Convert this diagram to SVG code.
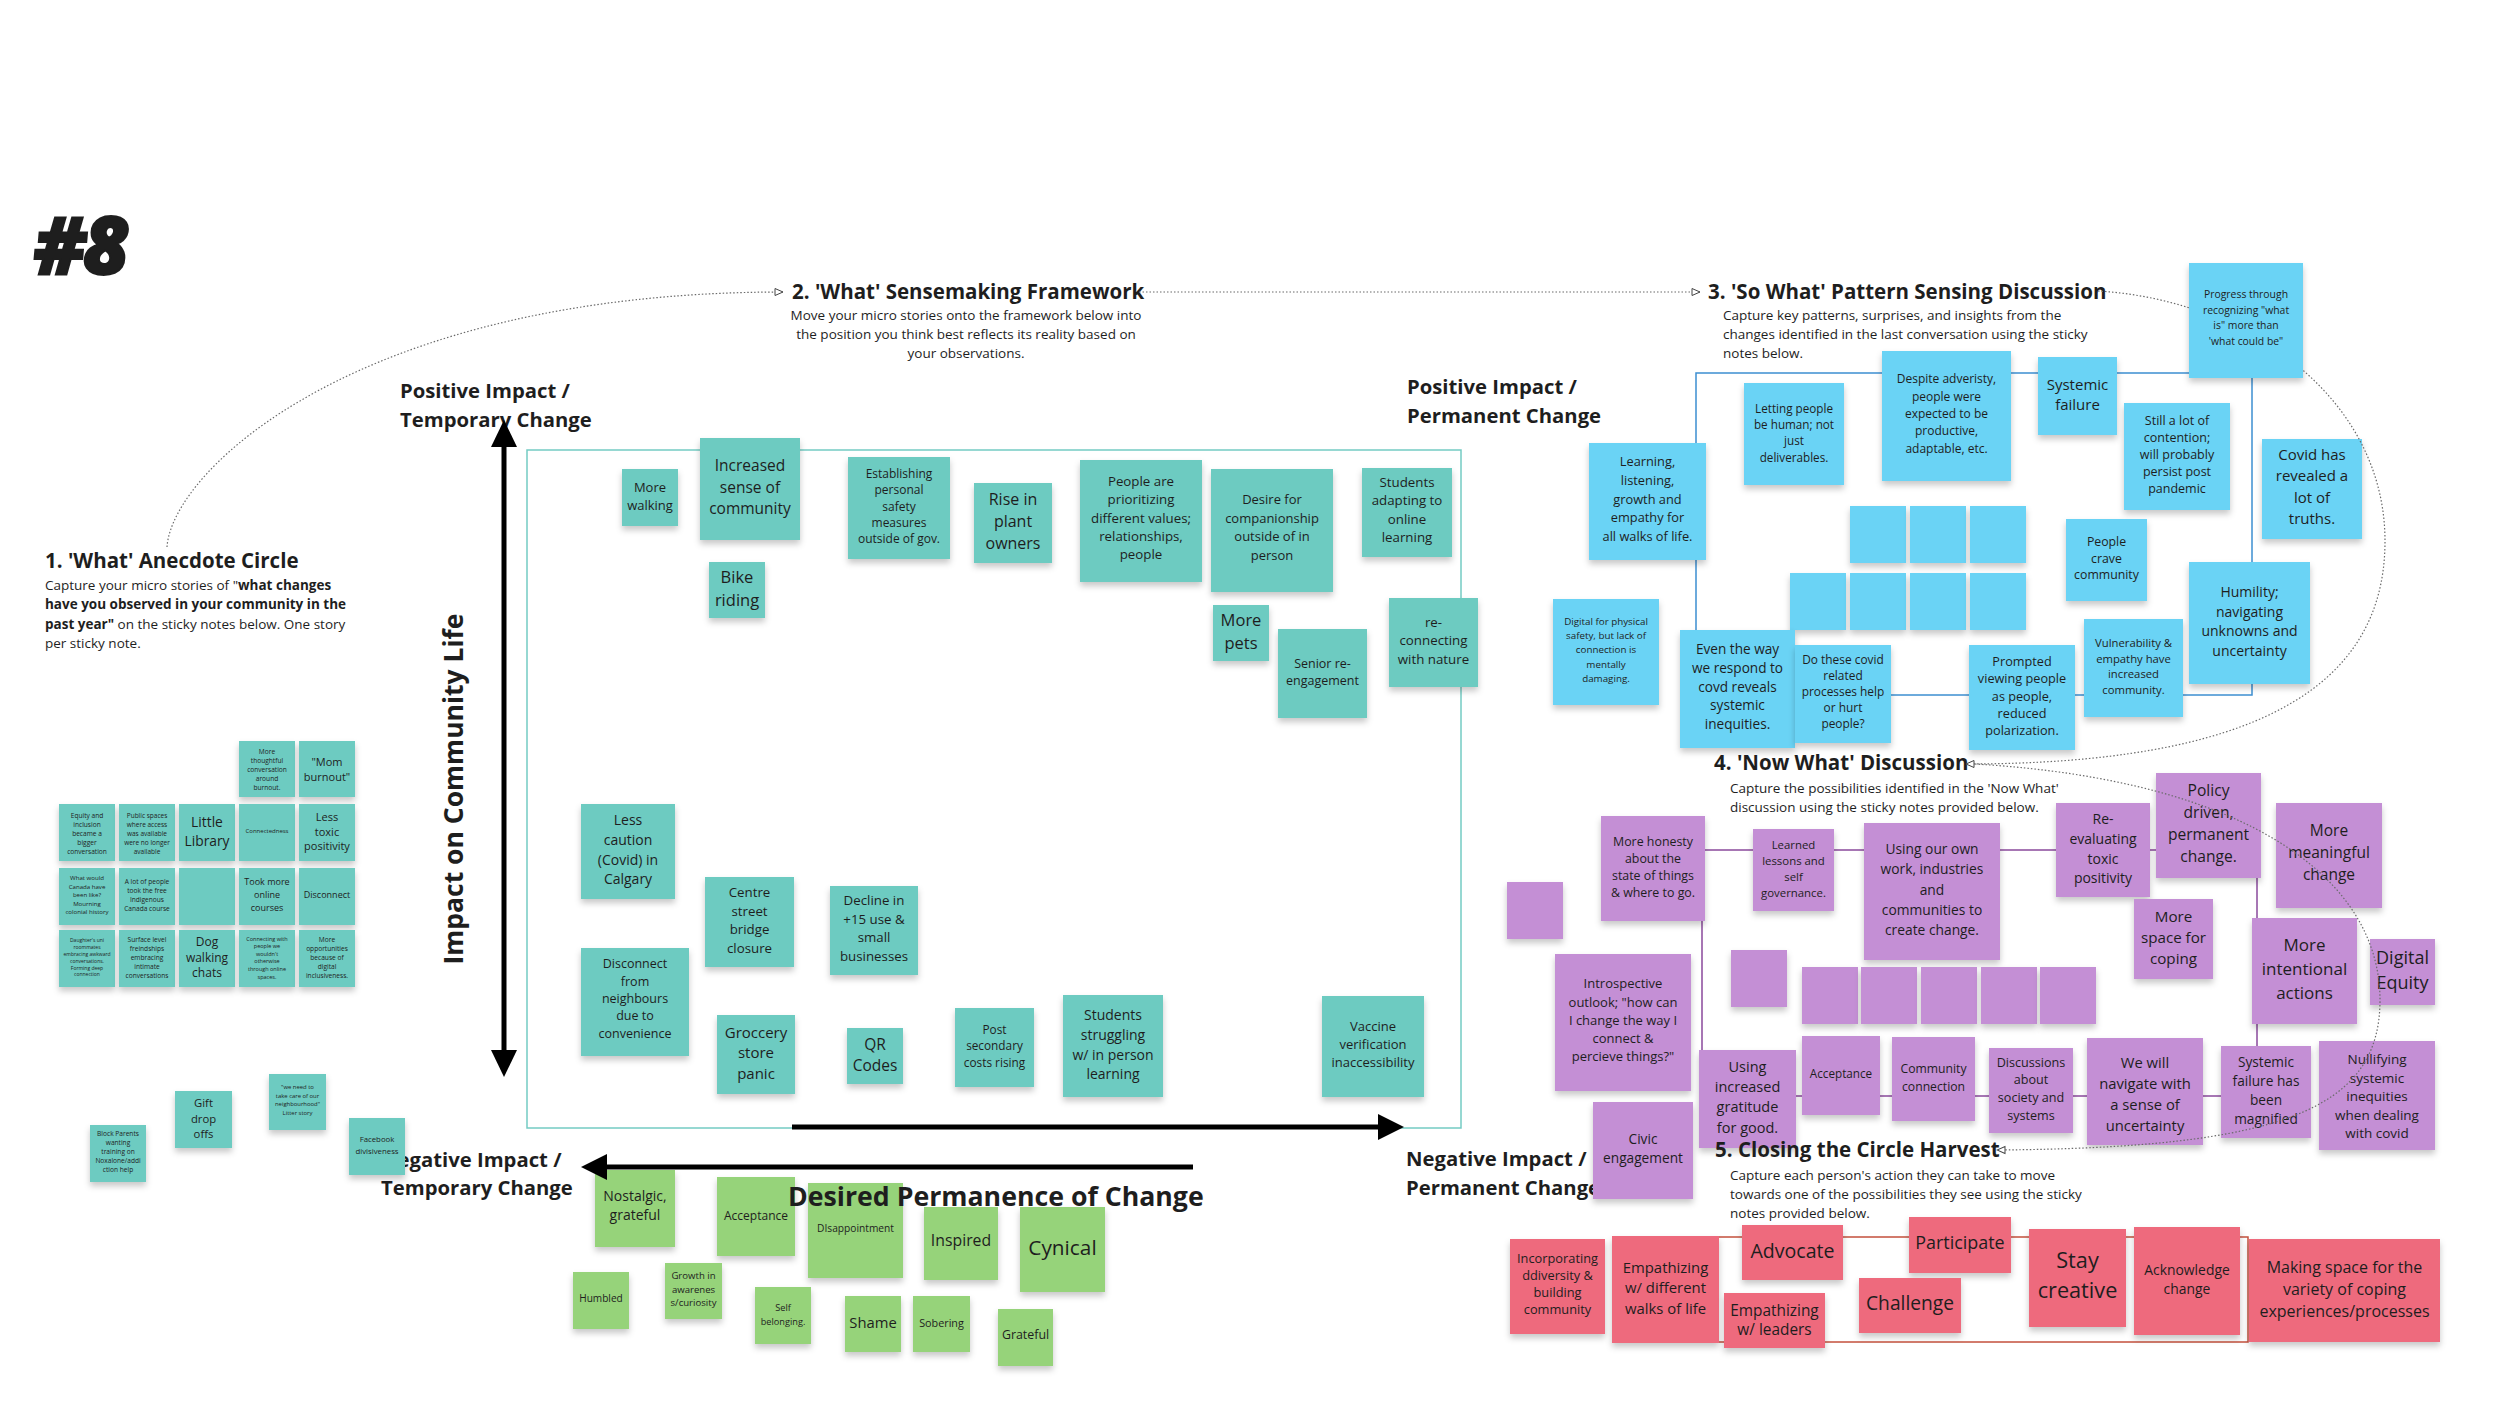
<svg xmlns="http://www.w3.org/2000/svg" width="2500" height="1406" viewBox="0 0 2500 1406">
<style>
.t{font-family:"Open Sans","Liberation Sans",sans-serif;fill:#1e1e1e}
.nt{font-family:"Open Sans","Liberation Sans",sans-serif;fill:#1e1e1e;text-anchor:middle;dominant-baseline:central}
.b{font-weight:700}
.teal{fill:#6dcbc1}
.blue{fill:#6bd3f5}
.purp{fill:#c48fd5}
.green{fill:#96d37a}
.red{fill:#ee6b7d}
.sh{filter:url(#sh)}
.dot{fill:none;stroke:#6a6a6a;stroke-width:1.2;stroke-dasharray:1.5 2}
.frame{fill:none;stroke-width:1.5}
</style>
<defs>
<filter id="sh" x="-15%" y="-15%" width="130%" height="145%">
<feDropShadow dx="0" dy="4" stdDeviation="3" flood-color="#000" flood-opacity="0.22"/>
</filter>
<marker id="tri" viewBox="0 0 10 10" refX="9" refY="5" markerWidth="10" markerHeight="10" orient="auto" markerUnits="userSpaceOnUse">
<path d="M1,1.5 L9,5 L1,8.5 Z" fill="#fff" stroke="#444" stroke-width="1"/>
</marker>
</defs>
<rect width="2500" height="1406" fill="#fff"/>

<g id="title">
<text class="t" x="34" y="274" font-family="DejaVu Sans" font-size="80" font-weight="900" font-style="italic" letter-spacing="-3" stroke="#1e1e1e" stroke-width="2">#8</text>
</g>

<g id="frames">
<rect class="frame" x="527" y="450" width="934" height="678" stroke="#74cbc3" stroke-width="2"/>
<rect class="frame" x="1696" y="373" width="556" height="322" stroke="#3d8fd1"/>
<rect class="frame" x="1702" y="850" width="555" height="246" stroke="#8a4a9c"/>
<rect class="frame" x="1702" y="1237" width="546" height="105" stroke="#c4503c"/>
</g>

<g id="axis-labels">
<text class="t b" font-size="20.3"><tspan x="400" y="398">Positive Impact /</tspan><tspan x="400" y="427">Temporary Change</tspan></text>
<text class="t b" font-size="20.3"><tspan x="1407" y="394">Positive Impact /</tspan><tspan x="1407" y="423">Permanent Change</tspan></text>
<text class="t b" font-size="20.3"><tspan x="381" y="1167">Negative Impact /</tspan><tspan x="381" y="1195">Temporary Change</tspan></text>
<text class="t b" font-size="20.3"><tspan x="1406" y="1166">Negative Impact /</tspan><tspan x="1406" y="1195">Permanent Change</tspan></text>
</g>

<g id="anecdote-notes">
<g id="a-thoughtful"><rect class="teal sh" x="239" y="741" width="56" height="56"/><text class="nt" font-size="6.6"><tspan x="267" y="750.8">More</tspan><tspan x="267" y="759.9">thoughtful</tspan><tspan x="267" y="769">conversation</tspan><tspan x="267" y="778.1">around</tspan><tspan x="267" y="787.2">burnout.</tspan></text></g>
<g id="a-mom"><rect class="teal sh" x="299" y="741" width="56" height="56"/><text class="nt" font-size="11"><tspan x="327" y="761">"Mom</tspan><tspan x="327" y="775.5">burnout"</tspan></text></g>
<g id="a-equity"><rect class="teal sh" x="59" y="804" width="56" height="57"/><text class="nt" font-size="6.6"><tspan x="87" y="814.5">Equity and</tspan><tspan x="87" y="823.5">inclusion</tspan><tspan x="87" y="832.5">became a</tspan><tspan x="87" y="841.5">bigger</tspan><tspan x="87" y="850.5">conversation</tspan></text></g>
<g id="a-public"><rect class="teal sh" x="119" y="804" width="56" height="57"/><text class="nt" font-size="6.5"><tspan x="147" y="814.5">Public spaces</tspan><tspan x="147" y="823.5">where access</tspan><tspan x="147" y="832.5">was available</tspan><tspan x="147" y="841.5">were no longer</tspan><tspan x="147" y="850.5">available</tspan></text></g>
<g id="a-library"><rect class="teal sh" x="179" y="804" width="56" height="57"/><text class="nt" font-size="13.8"><tspan x="207" y="821.3">Little</tspan><tspan x="207" y="839.7">Library</tspan></text></g>
<g id="a-connectedness"><rect class="teal sh" x="239" y="804" width="56" height="57"/><text class="nt" font-size="6"><tspan x="267" y="831">Connectedness</tspan></text></g>
<g id="a-lesstoxic"><rect class="teal sh" x="299" y="804" width="56" height="57"/><text class="nt" font-size="11"><tspan x="327" y="816">Less</tspan><tspan x="327" y="830.7">toxic</tspan><tspan x="327" y="845.4">positivity</tspan></text></g>
<g id="a-canada"><rect class="teal sh" x="59" y="868" width="56" height="57"/><text class="nt" font-size="6.1"><tspan x="87" y="877.2">What would</tspan><tspan x="87" y="885.7">Canada have</tspan><tspan x="87" y="894.2">been like?</tspan><tspan x="87" y="902.7">Mourning</tspan><tspan x="87" y="911.2">colonial history</tspan></text></g>
<g id="a-indigenous"><rect class="teal sh" x="119" y="868" width="56" height="57"/><text class="nt" font-size="6.6"><tspan x="147" y="880.5">A lot of people</tspan><tspan x="147" y="889.6">took the free</tspan><tspan x="147" y="898.8">Indigenous</tspan><tspan x="147" y="907.9">Canada course</tspan></text></g>
<g id="a-empty"><rect class="teal sh" x="179" y="868" width="56" height="57"/></g>
<g id="a-online"><rect class="teal sh" x="239" y="868" width="56" height="57"/><text class="nt" font-size="9"><tspan x="267" y="881.2">Took more</tspan><tspan x="267" y="894.1">online</tspan><tspan x="267" y="906.9">courses</tspan></text></g>
<g id="a-disconnect"><rect class="teal sh" x="299" y="868" width="56" height="57"/><text class="nt" font-size="9"><tspan x="327" y="894">Disconnect</tspan></text></g>
<g id="a-daughter"><rect class="teal sh" x="59" y="930" width="56" height="57"/><text class="nt" font-size="5"><tspan x="87" y="940.4">Daughter's uni</tspan><tspan x="87" y="947.2">roommates</tspan><tspan x="87" y="954">embracing awkward</tspan><tspan x="87" y="960.8">conversations.</tspan><tspan x="87" y="967.6">Forming deep</tspan><tspan x="87" y="974.4">connection</tspan></text></g>
<g id="a-surface"><rect class="teal sh" x="119" y="930" width="56" height="57"/><text class="nt" font-size="6.6"><tspan x="147" y="938.7">Surface level</tspan><tspan x="147" y="947.8">freindships</tspan><tspan x="147" y="957">embracing</tspan><tspan x="147" y="966.1">intimate</tspan><tspan x="147" y="975.2">conversations</tspan></text></g>
<g id="a-dog"><rect class="teal sh" x="179" y="930" width="56" height="57"/><text class="nt" font-size="12"><tspan x="207" y="941.4">Dog</tspan><tspan x="207" y="956.8">walking</tspan><tspan x="207" y="972.1">chats</tspan></text></g>
<g id="a-connecting"><rect class="teal sh" x="239" y="930" width="56" height="57"/><text class="nt" font-size="5.5"><tspan x="267" y="938.7">Connecting with</tspan><tspan x="267" y="946.3">people we</tspan><tspan x="267" y="953.8">wouldn't</tspan><tspan x="267" y="961.4">otherwise</tspan><tspan x="267" y="968.9">through online</tspan><tspan x="267" y="976.5">spaces.</tspan></text></g>
<g id="a-opportunities"><rect class="teal sh" x="299" y="930" width="56" height="57"/><text class="nt" font-size="6.6"><tspan x="327" y="938.7">More</tspan><tspan x="327" y="947.8">opportunities</tspan><tspan x="327" y="957">because of</tspan><tspan x="327" y="966.1">digital</tspan><tspan x="327" y="975.2">inclusiveness.</tspan></text></g>
<g id="a-block"><rect class="teal sh" x="90" y="1125" width="56" height="57"/><text class="nt" font-size="6.6"><tspan x="118" y="1133.3">Block Parents</tspan><tspan x="118" y="1142.3">wanting</tspan><tspan x="118" y="1151.3">training on</tspan><tspan x="118" y="1160.3">Noxalone/addi</tspan><tspan x="118" y="1169.3">ction help</tspan></text></g>
<g id="a-gift"><rect class="teal sh" x="175" y="1091" width="57" height="57"/><text class="nt" font-size="11.3"><tspan x="203.5" y="1102.3">Gift</tspan><tspan x="203.5" y="1117.5">drop</tspan><tspan x="203.5" y="1132.7">offs</tspan></text></g>
<g id="a-litter"><rect class="teal sh" x="269" y="1074" width="57" height="56"/><text class="nt" font-size="5.9"><tspan x="297.5" y="1087.3">"we need to</tspan><tspan x="297.5" y="1095.8">take care of our</tspan><tspan x="297.5" y="1104.2">neighbourhood"</tspan><tspan x="297.5" y="1112.7">Litter story</tspan></text></g>
<g id="a-facebook"><rect class="teal sh" x="349" y="1118" width="56" height="57"/><text class="nt" font-size="7.8"><tspan x="377" y="1139.3">Facebook</tspan><tspan x="377" y="1150.7">divisiveness</tspan></text></g>
</g>

<g id="framework-notes">
<g id="f-walking"><rect class="teal sh" x="622" y="469" width="56" height="57"/><text class="nt" font-size="13"><tspan x="650" y="486.7">More</tspan><tspan x="650" y="505">walking</tspan></text></g>
<g id="f-community"><rect class="teal sh" x="700" y="438" width="100" height="102"/><text class="nt" font-size="15.5"><tspan x="750" y="465">Increased</tspan><tspan x="750" y="486.7">sense of</tspan><tspan x="750" y="508.3">community</tspan></text></g>
<g id="f-bike"><rect class="teal sh" x="709" y="562" width="56" height="56"/><text class="nt" font-size="16.5"><tspan x="737" y="576">Bike</tspan><tspan x="737" y="599.3">riding</tspan></text></g>
<g id="f-safety"><rect class="teal sh" x="848" y="457" width="102" height="102"/><text class="nt" font-size="12"><tspan x="899" y="472.9">Establishing</tspan><tspan x="899" y="489.2">personal</tspan><tspan x="899" y="505.5">safety</tspan><tspan x="899" y="521.8">measures</tspan><tspan x="899" y="538.1">outside of gov.</tspan></text></g>
<g id="f-plant"><rect class="teal sh" x="974" y="483" width="78" height="80"/><text class="nt" font-size="16"><tspan x="1013" y="499.3">Rise in</tspan><tspan x="1013" y="521">plant</tspan><tspan x="1013" y="542.7">owners</tspan></text></g>
<g id="f-values"><rect class="teal sh" x="1080" y="460" width="122" height="122"/><text class="nt" font-size="13.3"><tspan x="1141" y="481">People are</tspan><tspan x="1141" y="499.3">prioritizing</tspan><tspan x="1141" y="517.5">different values;</tspan><tspan x="1141" y="535.8">relationships,</tspan><tspan x="1141" y="554">people</tspan></text></g>
<g id="f-companionship"><rect class="teal sh" x="1211" y="469" width="122" height="123"/><text class="nt" font-size="13"><tspan x="1272" y="499.3">Desire for</tspan><tspan x="1272" y="517.8">companionship</tspan><tspan x="1272" y="536.3">outside of in</tspan><tspan x="1272" y="554.8">person</tspan></text></g>
<g id="f-students-online"><rect class="teal sh" x="1362" y="468" width="90" height="89"/><text class="nt" font-size="13.3"><tspan x="1407" y="481.7">Students</tspan><tspan x="1407" y="500.2">adapting to</tspan><tspan x="1407" y="518.7">online</tspan><tspan x="1407" y="537.2">learning</tspan></text></g>
<g id="f-pets"><rect class="teal sh" x="1213" y="605" width="56" height="56"/><text class="nt" font-size="16.5"><tspan x="1241" y="619">More</tspan><tspan x="1241" y="642.3">pets</tspan></text></g>
<g id="f-senior"><rect class="teal sh" x="1278" y="629" width="89" height="89"/><text class="nt" font-size="12.5"><tspan x="1322.5" y="662.5">Senior re-</tspan><tspan x="1322.5" y="679.5">engagement</tspan></text></g>
<g id="f-nature"><rect class="teal sh" x="1389" y="598" width="89" height="89"/><text class="nt" font-size="13.3"><tspan x="1433.5" y="621.8">re-</tspan><tspan x="1433.5" y="640.3">connecting</tspan><tspan x="1433.5" y="658.8">with nature</tspan></text></g>
<g id="f-caution"><rect class="teal sh" x="581" y="804" width="94" height="95"/><text class="nt" font-size="14"><tspan x="628" y="819">Less</tspan><tspan x="628" y="838.8">caution</tspan><tspan x="628" y="858.6">(Covid) in</tspan><tspan x="628" y="878.4">Calgary</tspan></text></g>
<g id="f-neighbours"><rect class="teal sh" x="581" y="948" width="108" height="108"/><text class="nt" font-size="12.5"><tspan x="635" y="963.4">Disconnect</tspan><tspan x="635" y="980.7">from</tspan><tspan x="635" y="998">neighbours</tspan><tspan x="635" y="1015.3">due to</tspan><tspan x="635" y="1032.6">convenience</tspan></text></g>
<g id="f-bridge"><rect class="teal sh" x="705" y="877" width="89" height="90"/><text class="nt" font-size="13.3"><tspan x="749.5" y="892">Centre</tspan><tspan x="749.5" y="910.7">street</tspan><tspan x="749.5" y="929.3">bridge</tspan><tspan x="749.5" y="948">closure</tspan></text></g>
<g id="f-plus15"><rect class="teal sh" x="830" y="886" width="88" height="89"/><text class="nt" font-size="13.3"><tspan x="874" y="900">Decline in</tspan><tspan x="874" y="918.7">+15 use &amp;</tspan><tspan x="874" y="937.3">small</tspan><tspan x="874" y="956">businesses</tspan></text></g>
<g id="f-grocery"><rect class="teal sh" x="717" y="1015" width="78" height="79"/><text class="nt" font-size="15"><tspan x="756" y="1031.5">Groccery</tspan><tspan x="756" y="1052">store</tspan><tspan x="756" y="1072.5">panic</tspan></text></g>
<g id="f-qr"><rect class="teal sh" x="847" y="1028" width="56" height="56"/><text class="nt" font-size="15.5"><tspan x="875" y="1043.5">QR</tspan><tspan x="875" y="1064.5">Codes</tspan></text></g>
<g id="f-postsecondary"><rect class="teal sh" x="955" y="1008" width="79" height="79"/><text class="nt" font-size="11.8"><tspan x="994.5" y="1029">Post</tspan><tspan x="994.5" y="1045.3">secondary</tspan><tspan x="994.5" y="1061.6">costs rising</tspan></text></g>
<g id="f-students-struggling"><rect class="teal sh" x="1063" y="995" width="100" height="102"/><text class="nt" font-size="14"><tspan x="1113" y="1014.3">Students</tspan><tspan x="1113" y="1034">struggling</tspan><tspan x="1113" y="1053.7">w/ in person</tspan><tspan x="1113" y="1073.4">learning</tspan></text></g>
<g id="f-vaccine"><rect class="teal sh" x="1322" y="996" width="102" height="101"/><text class="nt" font-size="13"><tspan x="1373" y="1025.7">Vaccine</tspan><tspan x="1373" y="1043.7">verification</tspan><tspan x="1373" y="1061.7">inaccessibility</tspan></text></g>
</g>

<g id="feeling-notes">
<g id="g-nostalgic"><rect class="green sh" x="595" y="1170" width="80" height="77"/><text class="nt" font-size="14"><tspan x="635" y="1195">Nostalgic,</tspan><tspan x="635" y="1214">grateful</tspan></text></g>
<g id="g-acceptance"><rect class="green sh" x="717" y="1177" width="78" height="79"/><text class="nt" font-size="12"><tspan x="756" y="1215">Acceptance</tspan></text></g>
<g id="g-disappointment"><rect class="green sh" x="808" y="1183" width="95" height="95"/><text class="nt" font-size="10.2"><tspan x="855.5" y="1228">DIsappointment</tspan></text></g>
<g id="g-inspired"><rect class="green sh" x="924" y="1207" width="74" height="73"/><text class="nt" font-size="15.8"><tspan x="961" y="1240">Inspired</tspan></text></g>
<g id="g-cynical"><rect class="green sh" x="1020" y="1207" width="85" height="85"/><text class="nt" font-size="20.8"><tspan x="1062.5" y="1246.7">Cynical</tspan></text></g>
<g id="g-humbled"><rect class="green sh" x="573" y="1272" width="56" height="57"/><text class="nt" font-size="10.1"><tspan x="601" y="1298.3">Humbled</tspan></text></g>
<g id="g-growth"><rect class="green sh" x="665" y="1263" width="57" height="56"/><text class="nt" font-size="9.6"><tspan x="693.5" y="1275.3">Growth in</tspan><tspan x="693.5" y="1288.7">awarenes</tspan><tspan x="693.5" y="1302">s/curiosity</tspan></text></g>
<g id="g-self"><rect class="green sh" x="755" y="1287" width="56" height="57"/><text class="nt" font-size="9.2"><tspan x="783" y="1307.3">Self</tspan><tspan x="783" y="1320.7">belonging.</tspan></text></g>
<g id="g-shame"><rect class="green sh" x="845" y="1296" width="56" height="56"/><text class="nt" font-size="14.8"><tspan x="873" y="1321.7">Shame</tspan></text></g>
<g id="g-sobering"><rect class="green sh" x="913" y="1296" width="57" height="56"/><text class="nt" font-size="10.8"><tspan x="941.5" y="1321.7">Sobering</tspan></text></g>
<g id="g-grateful"><rect class="green sh" x="998" y="1309" width="55" height="57"/><text class="nt" font-size="12.4"><tspan x="1025.5" y="1334.3">Grateful</tspan></text></g>
</g>

<g id="sowhat-notes">
<g id="b-learning"><rect class="blue sh" x="1589" y="443" width="117" height="117"/><text class="nt" font-size="12.8"><tspan x="1647.5" y="461">Learning,</tspan><tspan x="1647.5" y="479.8">listening,</tspan><tspan x="1647.5" y="498.5">growth and</tspan><tspan x="1647.5" y="517.3">empathy for</tspan><tspan x="1647.5" y="536">all walks of life.</tspan></text></g>
<g id="b-letting"><rect class="blue sh" x="1744" y="383" width="100" height="102"/><text class="nt" font-size="11.7"><tspan x="1794" y="407.7">Letting people</tspan><tspan x="1794" y="424">be human; not</tspan><tspan x="1794" y="440.3">just</tspan><tspan x="1794" y="456.7">deliverables.</tspan></text></g>
<g id="b-despite"><rect class="blue sh" x="1882" y="351" width="129" height="130"/><text class="nt" font-size="12"><tspan x="1946.5" y="378.3">Despite adveristy,</tspan><tspan x="1946.5" y="395.7">people were</tspan><tspan x="1946.5" y="413">expected to be</tspan><tspan x="1946.5" y="430.3">productive,</tspan><tspan x="1946.5" y="447.7">adaptable, etc.</tspan></text></g>
<g id="b-systemic"><rect class="blue sh" x="2038" y="357" width="79" height="78"/><text class="nt" font-size="15"><tspan x="2077.5" y="384">Systemic</tspan><tspan x="2077.5" y="404">failure</tspan></text></g>
<g id="b-contention"><rect class="blue sh" x="2124" y="403" width="106" height="107"/><text class="nt" font-size="12.5"><tspan x="2177" y="420">Still a lot of</tspan><tspan x="2177" y="437.1">contention;</tspan><tspan x="2177" y="454.2">will probably</tspan><tspan x="2177" y="471.2">persist post</tspan><tspan x="2177" y="488.3">pandemic</tspan></text></g>
<g id="b-truths"><rect class="blue sh" x="2262" y="439" width="100" height="100"/><text class="nt" font-size="15"><tspan x="2312" y="454.3">Covid has</tspan><tspan x="2312" y="475.4">revealed a</tspan><tspan x="2312" y="496.6">lot of</tspan><tspan x="2312" y="517.7">truths.</tspan></text></g>
<g id="b-e1"><rect class="blue sh" x="1850" y="506" width="56" height="57"/></g>
<g id="b-e2"><rect class="blue sh" x="1910" y="506" width="56" height="57"/></g>
<g id="b-e3"><rect class="blue sh" x="1970" y="506" width="56" height="57"/></g>
<g id="b-e4"><rect class="blue sh" x="1790" y="573" width="56" height="57"/></g>
<g id="b-e5"><rect class="blue sh" x="1850" y="573" width="56" height="57"/></g>
<g id="b-e6"><rect class="blue sh" x="1910" y="573" width="56" height="57"/></g>
<g id="b-e7"><rect class="blue sh" x="1970" y="573" width="56" height="57"/></g>
<g id="b-crave"><rect class="blue sh" x="2066" y="519" width="81" height="82"/><text class="nt" font-size="12.3"><tspan x="2106.5" y="540.7">People</tspan><tspan x="2106.5" y="557.5">crave</tspan><tspan x="2106.5" y="574.3">community</tspan></text></g>
<g id="b-humility"><rect class="blue sh" x="2189" y="562" width="121" height="122"/><text class="nt" font-size="14"><tspan x="2249.5" y="591">Humility;</tspan><tspan x="2249.5" y="610.7">navigating</tspan><tspan x="2249.5" y="630.3">unknowns and</tspan><tspan x="2249.5" y="650">uncertainty</tspan></text></g>
<g id="b-digital"><rect class="blue sh" x="1553" y="599" width="106" height="106"/><text class="nt" font-size="9.8"><tspan x="1606" y="621">Digital for physical</tspan><tspan x="1606" y="635.2">safety, but lack of</tspan><tspan x="1606" y="649.3">connection is</tspan><tspan x="1606" y="663.5">mentally</tspan><tspan x="1606" y="677.7">damaging.</tspan></text></g>
<g id="b-even"><rect class="blue sh" x="1680" y="630" width="115" height="118"/><text class="nt" font-size="13.6"><tspan x="1737.5" y="648.3">Even the way</tspan><tspan x="1737.5" y="666.9">we respond to</tspan><tspan x="1737.5" y="685.5">covd reveals</tspan><tspan x="1737.5" y="704.1">systemic</tspan><tspan x="1737.5" y="722.7">inequities.</tspan></text></g>
<g id="b-dothese"><rect class="blue sh" x="1795" y="645" width="96" height="98"/><text class="nt" font-size="11.9"><tspan x="1843" y="659.3">Do these covid</tspan><tspan x="1843" y="675.3">related</tspan><tspan x="1843" y="691.3">processes help</tspan><tspan x="1843" y="707.3">or hurt</tspan><tspan x="1843" y="723.3">people?</tspan></text></g>
<g id="b-prompted"><rect class="blue sh" x="1969" y="645" width="106" height="105"/><text class="nt" font-size="12.7"><tspan x="2022" y="661">Prompted</tspan><tspan x="2022" y="678.3">viewing people</tspan><tspan x="2022" y="695.5">as people,</tspan><tspan x="2022" y="712.8">reduced</tspan><tspan x="2022" y="730">polarization.</tspan></text></g>
<g id="b-vulnerability"><rect class="blue sh" x="2084" y="619" width="99" height="98"/><text class="nt" font-size="11.3"><tspan x="2133.5" y="641.7">Vulnerability &amp;</tspan><tspan x="2133.5" y="657.6">empathy have</tspan><tspan x="2133.5" y="673.4">increased</tspan><tspan x="2133.5" y="689.3">community.</tspan></text></g>
</g>

<g id="nowwhat-notes">
<g id="p-empty1"><rect class="purp sh" x="1507" y="882" width="56" height="57"/></g>
<g id="p-honesty"><rect class="purp sh" x="1601" y="816" width="104" height="105"/><text class="nt" font-size="12.4"><tspan x="1653" y="840.7">More honesty</tspan><tspan x="1653" y="857.7">about the</tspan><tspan x="1653" y="874.7">state of things</tspan><tspan x="1653" y="891.7">&amp; where to go.</tspan></text></g>
<g id="p-learned"><rect class="purp sh" x="1753" y="829" width="81" height="82"/><text class="nt" font-size="11.4"><tspan x="1793.5" y="844.3">Learned</tspan><tspan x="1793.5" y="860.3">lessons and</tspan><tspan x="1793.5" y="876.3">self</tspan><tspan x="1793.5" y="892.3">governance.</tspan></text></g>
<g id="p-ownwork"><rect class="purp sh" x="1864" y="823" width="136" height="137"/><text class="nt" font-size="13.8"><tspan x="1932" y="847.7">Using our own</tspan><tspan x="1932" y="868.1">work, industries</tspan><tspan x="1932" y="888.5">and</tspan><tspan x="1932" y="908.9">communities to</tspan><tspan x="1932" y="929.3">create change.</tspan></text></g>
<g id="p-reevaluating"><rect class="purp sh" x="2056" y="803" width="94" height="94"/><text class="nt" font-size="14"><tspan x="2103" y="818.3">Re-</tspan><tspan x="2103" y="838">evaluating</tspan><tspan x="2103" y="857.7">toxic</tspan><tspan x="2103" y="877.3">positivity</tspan></text></g>
<g id="p-policy"><rect class="purp sh" x="2156" y="773" width="105" height="105"/><text class="nt" font-size="15.6"><tspan x="2208.5" y="790">Policy</tspan><tspan x="2208.5" y="811.9">driven,</tspan><tspan x="2208.5" y="833.8">permanent</tspan><tspan x="2208.5" y="855.7">change.</tspan></text></g>
<g id="p-meaningful"><rect class="purp sh" x="2276" y="803" width="106" height="105"/><text class="nt" font-size="15.5"><tspan x="2329" y="830">More</tspan><tspan x="2329" y="852.2">meaningful</tspan><tspan x="2329" y="874.3">change</tspan></text></g>
<g id="p-coping"><rect class="purp sh" x="2134" y="899" width="79" height="80"/><text class="nt" font-size="15.2"><tspan x="2173.5" y="915.7">More</tspan><tspan x="2173.5" y="937">space for</tspan><tspan x="2173.5" y="958.3">coping</tspan></text></g>
<g id="p-intentional"><rect class="purp sh" x="2252" y="918" width="105" height="106"/><text class="nt" font-size="17"><tspan x="2304.5" y="944.3">More</tspan><tspan x="2304.5" y="968">intentional</tspan><tspan x="2304.5" y="991.7">actions</tspan></text></g>
<g id="p-digital"><rect class="purp sh" x="2370" y="939" width="65" height="66"/><text class="nt" font-size="18"><tspan x="2402.5" y="957.3">Digital</tspan><tspan x="2402.5" y="982.3">Equity</tspan></text></g>
<g id="p-empty2"><rect class="purp sh" x="1731" y="950" width="56" height="57"/></g>
<g id="p-empty3"><rect class="purp sh" x="1802" y="967" width="56" height="57"/></g>
<g id="p-empty4"><rect class="purp sh" x="1861" y="967" width="56" height="57"/></g>
<g id="p-empty5"><rect class="purp sh" x="1921" y="967" width="56" height="57"/></g>
<g id="p-empty6"><rect class="purp sh" x="1981" y="967" width="56" height="57"/></g>
<g id="p-empty7"><rect class="purp sh" x="2040" y="967" width="56" height="57"/></g>
<g id="p-introspective"><rect class="purp sh" x="1555" y="954" width="136" height="137"/><text class="nt" font-size="13"><tspan x="1623" y="983.3">Introspective</tspan><tspan x="1623" y="1001.5">outlook; "how can</tspan><tspan x="1623" y="1019.7">I change the way I</tspan><tspan x="1623" y="1037.8">connect &amp;</tspan><tspan x="1623" y="1056">percieve things?"</tspan></text></g>
<g id="p-gratitude"><rect class="purp sh" x="1699" y="1050" width="97" height="98"/><text class="nt" font-size="14.5"><tspan x="1747.5" y="1066">Using</tspan><tspan x="1747.5" y="1086.2">increased</tspan><tspan x="1747.5" y="1106.4">gratitude</tspan><tspan x="1747.5" y="1126.7">for good.</tspan></text></g>
<g id="p-acceptance"><rect class="purp sh" x="1802" y="1036" width="78" height="79"/><text class="nt" font-size="11.7"><tspan x="1841" y="1073.3">Acceptance</tspan></text></g>
<g id="p-connection"><rect class="purp sh" x="1892" y="1037" width="83" height="84"/><text class="nt" font-size="12.2"><tspan x="1933.5" y="1068.3">Community</tspan><tspan x="1933.5" y="1085.7">connection</tspan></text></g>
<g id="p-discussions"><rect class="purp sh" x="1989" y="1048" width="84" height="85"/><text class="nt" font-size="12.6"><tspan x="2031" y="1061.7">Discussions</tspan><tspan x="2031" y="1079.4">about</tspan><tspan x="2031" y="1097.2">society and</tspan><tspan x="2031" y="1115">systems</tspan></text></g>
<g id="p-navigate"><rect class="purp sh" x="2087" y="1038" width="116" height="107"/><text class="nt" font-size="14.8"><tspan x="2145" y="1062.3">We will</tspan><tspan x="2145" y="1083.2">navigate with</tspan><tspan x="2145" y="1104.1">a sense of</tspan><tspan x="2145" y="1125">uncertainty</tspan></text></g>
<g id="p-magnified"><rect class="purp sh" x="2221" y="1046" width="90" height="92"/><text class="nt" font-size="13.7"><tspan x="2266" y="1061">Systemic</tspan><tspan x="2266" y="1080.1">failure has</tspan><tspan x="2266" y="1099.2">been</tspan><tspan x="2266" y="1118.3">magnified</tspan></text></g>
<g id="p-nullifying"><rect class="purp sh" x="2319" y="1041" width="116" height="109"/><text class="nt" font-size="13.5"><tspan x="2377" y="1059.3">Nullifying</tspan><tspan x="2377" y="1077.8">systemic</tspan><tspan x="2377" y="1096.3">inequities</tspan><tspan x="2377" y="1114.8">when dealing</tspan><tspan x="2377" y="1133.3">with covid</tspan></text></g>
<g id="p-civic"><rect class="purp sh" x="1593" y="1102" width="100" height="97"/><text class="nt" font-size="13.7"><tspan x="1643" y="1138">Civic</tspan><tspan x="1643" y="1157">engagement</tspan></text></g>
</g>

<g id="harvest-notes">
<g id="r-diversity"><rect class="red sh" x="1510" y="1239" width="95" height="95"/><text class="nt" font-size="12.8"><tspan x="1557.5" y="1258.3">Incorporating</tspan><tspan x="1557.5" y="1275.3">ddiversity &amp;</tspan><tspan x="1557.5" y="1292.3">building</tspan><tspan x="1557.5" y="1309.3">community</tspan></text></g>
<g id="r-walks"><rect class="red sh" x="1612" y="1236" width="107" height="107"/><text class="nt" font-size="14.9"><tspan x="1665.5" y="1266.7">Empathizing</tspan><tspan x="1665.5" y="1287.2">w/ different</tspan><tspan x="1665.5" y="1307.7">walks of life</tspan></text></g>
<g id="r-advocate"><rect class="red sh" x="1742" y="1225" width="101" height="55"/><text class="nt" font-size="19.6"><tspan x="1792.5" y="1250">Advocate</tspan></text></g>
<g id="r-leaders"><rect class="red sh" x="1724" y="1293" width="101" height="55"/><text class="nt" font-size="15.4"><tspan x="1774.5" y="1310">Empathizing</tspan><tspan x="1774.5" y="1329.3">w/ leaders</tspan></text></g>
<g id="r-participate"><rect class="red sh" x="1909" y="1217" width="102" height="56"/><text class="nt" font-size="17.9"><tspan x="1960" y="1242.3">Participate</tspan></text></g>
<g id="r-challenge"><rect class="red sh" x="1859" y="1278" width="102" height="55"/><text class="nt" font-size="19.2"><tspan x="1910" y="1302.3">Challenge</tspan></text></g>
<g id="r-creative"><rect class="red sh" x="2029" y="1229" width="97" height="98"/><text class="nt" font-size="21.7"><tspan x="2077.5" y="1259.3">Stay</tspan><tspan x="2077.5" y="1289.3">creative</tspan></text></g>
<g id="r-acknowledge"><rect class="red sh" x="2134" y="1227" width="106" height="108"/><text class="nt" font-size="13.9"><tspan x="2187" y="1269.3">Acknowledge</tspan><tspan x="2187" y="1288.3">change</tspan></text></g>
<g id="r-space"><rect class="red sh" x="2249" y="1239" width="191" height="103"/><text class="nt" font-size="16"><tspan x="2344.5" y="1266.7">Making space for the</tspan><tspan x="2344.5" y="1288.8">variety of coping</tspan><tspan x="2344.5" y="1311">experiences/processes</tspan></text></g>
</g>

<g id="section1-heading">
<text class="t b" x="45" y="568" font-size="20.5">1. 'What' Anecdote Circle</text>
<text class="t" font-size="13.5"><tspan x="45" y="590">Capture your micro stories of "<tspan class="b">what changes</tspan></tspan><tspan x="45" y="609" class="b">have you observed in your community in the</tspan><tspan x="45" y="629"><tspan class="b">past year"</tspan> on the sticky notes below. One story</tspan><tspan x="45" y="648">per sticky note.</tspan></text>
</g>

<g id="section2-heading">
<text class="t b" x="792" y="299" font-size="20.5">2. 'What' Sensemaking Framework</text>
<text class="t" font-size="13.5" text-anchor="middle"><tspan x="966" y="320">Move your micro stories onto the framework below into</tspan><tspan x="966" y="339">the position you think best reflects its reality based on</tspan><tspan x="966" y="358">your observations.</tspan></text>
</g>

<g id="section3-heading">
<text class="t b" x="1708" y="299" font-size="20.5">3. 'So What' Pattern Sensing Discussion</text>
<text class="t" font-size="13.5"><tspan x="1723" y="320">Capture key patterns, surprises, and insights from the</tspan><tspan x="1723" y="339">changes identified in the last conversation using the sticky</tspan><tspan x="1723" y="358">notes below.</tspan></text>
</g>

<g id="section4-heading">
<text class="t b" x="1714" y="770" font-size="20.5">4. 'Now What' Discussion</text>
<text class="t" font-size="13.5"><tspan x="1730" y="793">Capture the possibilities identified in the 'Now What'</tspan><tspan x="1730" y="812">discussion using the sticky notes provided below.</tspan></text>
</g>

<g id="section5-heading">
<text class="t b" x="1715" y="1157" font-size="20.5">5. Closing the Circle Harvest</text>
<text class="t" font-size="13.5"><tspan x="1730" y="1180">Capture each person's action they can take to move</tspan><tspan x="1730" y="1199">towards one of the possibilities they see using the sticky</tspan><tspan x="1730" y="1218">notes provided below.</tspan></text>
</g>

<g id="axes">
<line x1="504" y1="440" x2="504" y2="1057" stroke="#000" stroke-width="5"/>
<polygon points="504,420 491,447 517,447" fill="#000"/>
<polygon points="504,1077 491,1050 517,1050" fill="#000"/>
<line x1="792" y1="1127" x2="1385" y2="1127" stroke="#000" stroke-width="5"/>
<polygon points="1404,1127 1378,1114 1378,1140" fill="#000"/>
<line x1="600" y1="1167" x2="1193" y2="1167" stroke="#000" stroke-width="5"/>
<polygon points="581,1167 607,1154 607,1180" fill="#000"/>
<text class="t b" font-size="26.5" text-anchor="middle" transform="translate(463,789) rotate(-90)" x="0" y="0">Impact on Community Life</text>
<text class="t b" x="788" y="1206" font-size="26.7">Desired Permanence of Change</text>
</g>

<g id="connectors">
<path class="dot" d="M167,547 C172,470 360,292 783,292" marker-end="url(#tri)"/>
<path class="dot" d="M1139,292 L1700,292" marker-end="url(#tri)"/>
<path class="dot" d="M2098,291 C2250,300 2385,400 2385,541 C2385,690 2250,764 1966,764" marker-end="url(#tri)"/>
<path class="dot" d="M1975,764 C2250,780 2380,880 2380,1000 C2380,1110 2280,1148 1997,1150" marker-end="url(#tri)"/>
</g>

<g id="b-progress"><rect class="blue sh" x="2189" y="263" width="114" height="115"/><text class="nt" font-size="10.4"><tspan x="2246" y="294.3">Progress through</tspan><tspan x="2246" y="309.8">recognizing "what</tspan><tspan x="2246" y="325.2">is" more than</tspan><tspan x="2246" y="340.7">'what could be"</tspan></text></g>
</svg>
